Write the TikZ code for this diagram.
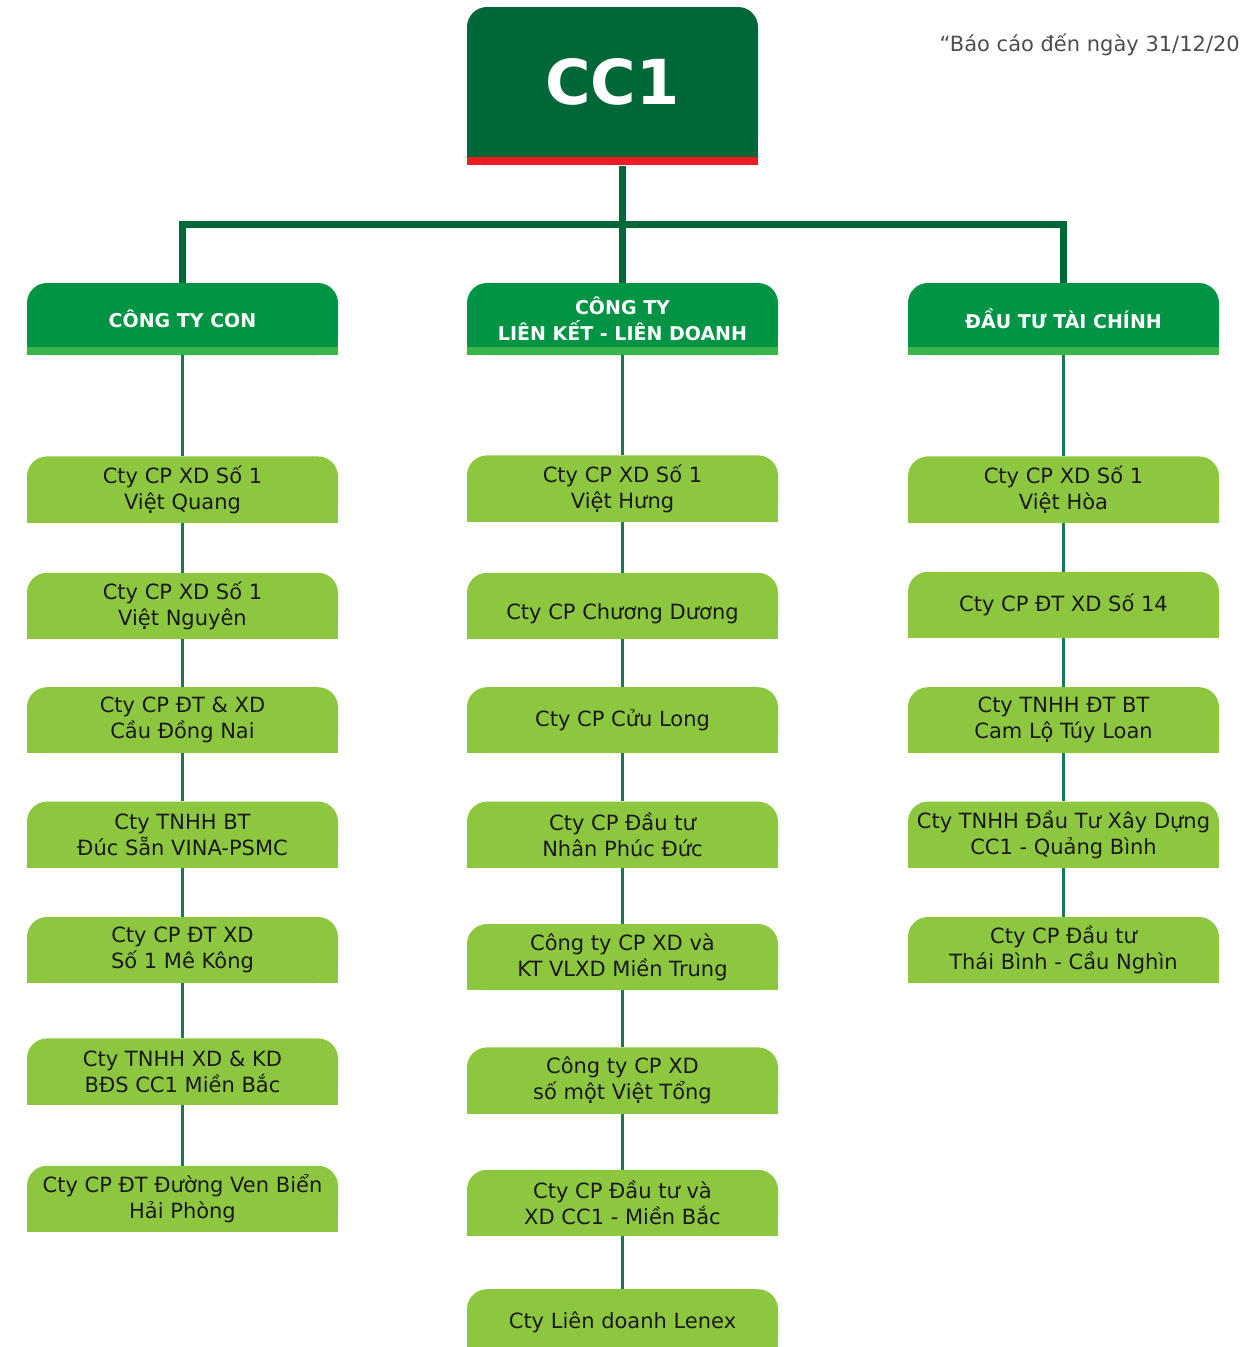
\documentclass[tikz,border=0pt]{standalone}
\usepackage{fontspec}
\setmainfont{DejaVu Sans}
\usetikzlibrary{positioning,backgrounds}
\definecolor{darkgreen}{RGB}{0,104,56}
\definecolor{redbar}{RGB}{237,28,36}
\definecolor{headgreen}{RGB}{0,148,68}
\definecolor{stripgreen}{RGB}{57,181,74}
\definecolor{itemgreen}{RGB}{141,198,63}
\definecolor{linegreen}{RGB}{23,122,85}
\definecolor{textgray}{RGB}{77,77,77}
\definecolor{textdark}{RGB}{26,26,26}

\begin{document}
\begin{tikzpicture}[
    x=1pt, y=-1pt,
    rootbox/.style={fill=darkgreen, rounded corners=20pt, minimum width=291pt, minimum height=150pt, inner sep=0pt, text=white, font=\fontsize{62}{62}\selectfont\bfseries},
    groupbox/.style={fill=headgreen, rounded corners=20pt, minimum width=311pt, minimum height=72pt, inner sep=0pt, text=white, font=\fontsize{19}{26}\selectfont\bfseries, align=center},
    firm/.style={fill=itemgreen, rounded corners=20pt, minimum width=311pt, minimum height=66pt, inner sep=0pt, text=textdark, font=\fontsize{21}{26}\selectfont, align=center},
    trunk/.style={darkgreen, line width=7pt},
    link/.style={linegreen, line width=2.5pt}
]
    \useasboundingbox (0,0) rectangle (1242,1347);

    % Nodes - root
    \node[rootbox] (cc1) at (612.5,82) {CC1};
    \node[fill=redbar, minimum width=291pt, minimum height=8pt, inner sep=0pt, below=0pt of cc1] (bar) {};
    \node[anchor=base east, inner sep=0pt, text=textgray, font=\fontsize{21}{21}\selectfont] (note) at (1240,51) {“Báo cáo đến ngày 31/12/20};

    % Nodes - groups
    \node[groupbox] (con) at (182.5,319) {CÔNG TY CON};
    \node[groupbox] (lk) at (622.5,319) {CÔNG TY\\LIÊN KẾT - LIÊN DOANH};
    \node[groupbox] (dt) at (1063.5,319) {ĐẦU TƯ TÀI CHÍNH};
    \coordinate (bus) at (622.5,224);

    % Nodes - left column
    \node[firm, below=101pt of con] (con1) {Cty CP XD Số 1\\Việt Quang};
    \node[firm, below=50pt of con1] (con2) {Cty CP XD Số 1\\Việt Nguyên};
    \node[firm, below=48pt of con2] (con3) {Cty CP ĐT \& XD\\Cầu Đồng Nai};
    \node[firm, below=48pt of con3] (con4) {Cty TNHH BT\\Đúc Sẵn VINA-PSMC};
    \node[firm, below=49pt of con4] (con5) {Cty CP ĐT XD\\Số 1 Mê Kông};
    \node[firm, below=55pt of con5] (con6) {Cty TNHH XD \& KD\\BĐS CC1 Miền Bắc};
    \node[firm, below=61pt of con6] (con7) {Cty CP ĐT Đường Ven Biển\\Hải Phòng};

    % Nodes - middle column
    \node[firm, below=100pt of lk] (lk1) {Cty CP XD Số 1\\Việt Hưng};
    \node[firm, below=51pt of lk1, text height=33pt, text depth=5pt] (lk2) {Cty CP Chương Dương};
    \node[firm, below=48pt of lk2] (lk3) {Cty CP Cửu Long};
    \node[firm, below=48pt of lk3] (lk4) {Cty CP Đầu tư\\Nhân Phúc Đức};
    \node[firm, below=56pt of lk4] (lk5) {Công ty CP XD và\\KT VLXD Miền Trung};
    \node[firm, below=57pt of lk5] (lk6) {Công ty CP XD\\số một Việt Tổng};
    \node[firm, below=56pt of lk6] (lk7) {Cty CP Đầu tư và\\XD CC1 - Miền Bắc};
    \node[firm, below=53pt of lk7] (lk8) {Cty Liên doanh Lenex};

    % Nodes - right column
    \node[firm, below=101pt of dt] (dt1) {Cty CP XD Số 1\\Việt Hòa};
    \node[firm, below=49pt of dt1] (dt2) {Cty CP ĐT XD Số 14};
    \node[firm, below=49pt of dt2] (dt3) {Cty TNHH ĐT BT\\Cam Lộ Túy Loan};
    \node[firm, below=48pt of dt3] (dt4) {Cty TNHH Đầu Tư Xây Dựng\\CC1 - Quảng Bình};
    \node[firm, below=49pt of dt4] (dt5) {Cty CP Đầu tư\\Thái Bình - Cầu Nghìn};

    % square bottom corners
    \begin{scope}[on background layer]
        \fill[darkgreen] (cc1.south west) rectangle (cc1.east);
        \foreach \g in {con,lk,dt}
            \fill[headgreen] (\g.south west) rectangle (\g.east);
        \foreach \i in {1,...,7}
            \fill[itemgreen] (con\i.south west) rectangle (con\i.east);
        \foreach \i in {1,...,8}
            \fill[itemgreen] (lk\i.south west) rectangle (lk\i.east);
        \foreach \i in {1,...,5}
            \fill[itemgreen] (dt\i.south west) rectangle (dt\i.east);
    \end{scope}
    \fill[stripgreen] (con.south west) rectangle ([yshift=8pt]con.south east);
    \fill[stripgreen] (lk.south west) rectangle ([yshift=8pt]lk.south east);
    \fill[stripgreen] (dt.south west) rectangle ([yshift=8pt]dt.south east);

    % Lines - trunk
    \draw[trunk] (bar.south -| lk.north) -- (lk.north);
    \draw[trunk] (con.north) |- (bus) -| (dt.north);

    % Lines - left column
    \draw[link] (con) -- (con1);
    \draw[link] (con1) -- (con2);
    \draw[link] (con2) -- (con3);
    \draw[link] (con3) -- (con4);
    \draw[link] (con4) -- (con5);
    \draw[link] (con5) -- (con6);
    \draw[link] (con6) -- (con7);

    % Lines - middle column
    \draw[link] (lk) -- (lk1);
    \draw[link] (lk1) -- (lk2);
    \draw[link] (lk2) -- (lk3);
    \draw[link] (lk3) -- (lk4);
    \draw[link] (lk4) -- (lk5);
    \draw[link] (lk5) -- (lk6);
    \draw[link] (lk6) -- (lk7);
    \draw[link] (lk7) -- (lk8);

    % Lines - right column
    \draw[link] (dt) -- (dt1);
    \draw[link] (dt1) -- (dt2);
    \draw[link] (dt2) -- (dt3);
    \draw[link] (dt3) -- (dt4);
    \draw[link] (dt4) -- (dt5);
\end{tikzpicture}
\end{document}
